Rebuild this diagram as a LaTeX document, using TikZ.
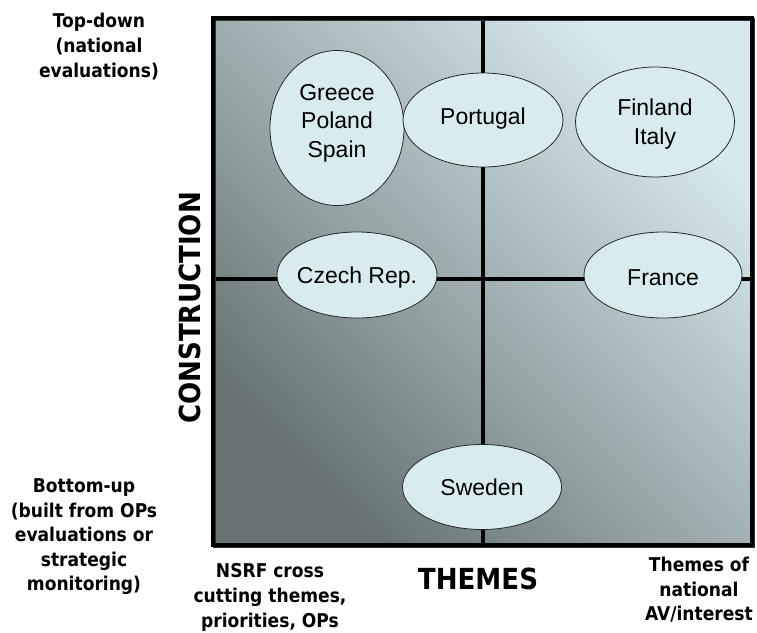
\documentclass[tikz,border=0pt]{standalone}
\usepackage{fontspec}
\setmainfont{Liberation Sans}
\newfontfamily\labelfont{DejaVu Sans Condensed Bold}
\usetikzlibrary{shapes.geometric,calc}
\definecolor{gridDark}{RGB}{103,115,115}
\definecolor{gridMid}{RGB}{160,176,178}
\definecolor{gridLight}{RGB}{214,233,236}
\definecolor{blobFill}{RGB}{216,236,239}
\definecolor{blobLine}{RGB}{40,40,40}
% linear ramp along one axis; 25bp..75bp spans the shaded path
\pgfdeclarehorizontalshading{quadfield}{100bp}{%
  color(0bp)=(gridDark); color(33bp)=(gridDark); color(50bp)=(gridMid);
  color(67bp)=(gridLight); color(100bp)=(gridLight)}
\tikzset{
  country/.style={ellipse, draw=blobLine, line width=0.8pt, fill=blobFill,
    inner sep=0pt},
  countrytext/.style={align=center, inner sep=0pt,
    font=\fontsize{23}{28.5}\selectfont},
  axislabel/.style={align=center, font=\labelfont\fontsize{19}{25}\selectfont},
  axistitle/.style={font=\labelfont\fontsize{29}{34}\selectfont},
  divider/.style={line width=4pt, black},
}
\begin{document}
\begin{tikzpicture}[x=1pt,y=-1pt]
  % canvas
  \fill[white] (0,0) rectangle (757,632);
  \useasboundingbox (0,0) rectangle (757,632);

  % matrix field corners and midlines
  \coordinate (tl) at (213,18);
  \coordinate (br) at (752,545);
  \coordinate (cc) at (482.5,281.5);
  \coordinate (mt) at (483,18);
  \coordinate (mb) at (483,545);
  \coordinate (ml) at (213,279);
  \coordinate (mr) at (752,279);

  % diagonal shading: dark lower left to light upper right
  \begin{scope}
    \clip (tl) rectangle (br);
    \begin{scope}[transform canvas={rotate around={44.4:(cc)}}]
      \shade[shading=quadfield] ($(cc)+(-377,-377)$) rectangle ($(cc)+(377,377)$);
    \end{scope}
  \end{scope}

  % quadrant dividers
  \draw[divider] (mt) -- (mb);
  \draw[divider] (ml) -- (mr);

  % frame with a slight drop shadow
  \draw[line width=3pt, black!80] ($(tl)+(1.5,1.5)$) rectangle ($(br)+(1.5,1.5)$);
  \draw[line width=4pt, black] (tl) rectangle (br);

  % countries
  \node[country, minimum width=134pt, minimum height=155pt] (gps) at (337,128) {};
  \node[country, minimum width=160pt, minimum height=94pt] (pt) at (483,120) {};
  \node[country, minimum width=159pt, minimum height=110pt] (fi) at (655,122) {};
  \node[country, minimum width=160pt, minimum height=86pt] (cz) at (357,275) {};
  \node[country, minimum width=158pt, minimum height=86pt] (fr) at (663,275) {};
  \node[country, minimum width=159pt, minimum height=85pt] (se) at (482,487) {};

  \node[countrytext] (gpsName) at ($(gps.center)+(0,-5)$) {Greece\\Poland\\Spain};
  \node[countrytext] (ptName) at ($(pt.center)+(0,-1)$) {Portugal};
  \node[countrytext] (fiName) at ($(fi.center)+(0,2)$) {Finland\\Italy};
  \node[countrytext] (czName) at ($(cz.center)+(0,3)$) {Czech Rep.};
  \node[countrytext] (frName) at ($(fr.center)+(0,3)$) {France};
  \node[countrytext] (seName) at ($(se.center)+(0,0)$) {Sweden};

  % axis texts
  \node[axislabel] (top) at (99,47) {Top-down\\(national\\evaluations)};
  \node[axislabel, font=\labelfont\fontsize{19}{24.5}\selectfont] (bottom) at (84,537)
    {Bottom-up\\(built from OPs\\evaluations or\\strategic\\monitoring)};
  \node[axistitle, rotate=90] (construction) at (190,308) {CONSTRUCTION};
  \node[axistitle] (themes) at (478,579) {THEMES};
  \node[axislabel] (nsrf) at (270,597) {NSRF cross\\cutting themes,\\priorities, OPs};
  \node[axislabel, font=\labelfont\fontsize{19}{24.5}\selectfont] (national) at (699,590)
    {Themes of\\national\\AV/interest};
\end{tikzpicture}
\end{document}
